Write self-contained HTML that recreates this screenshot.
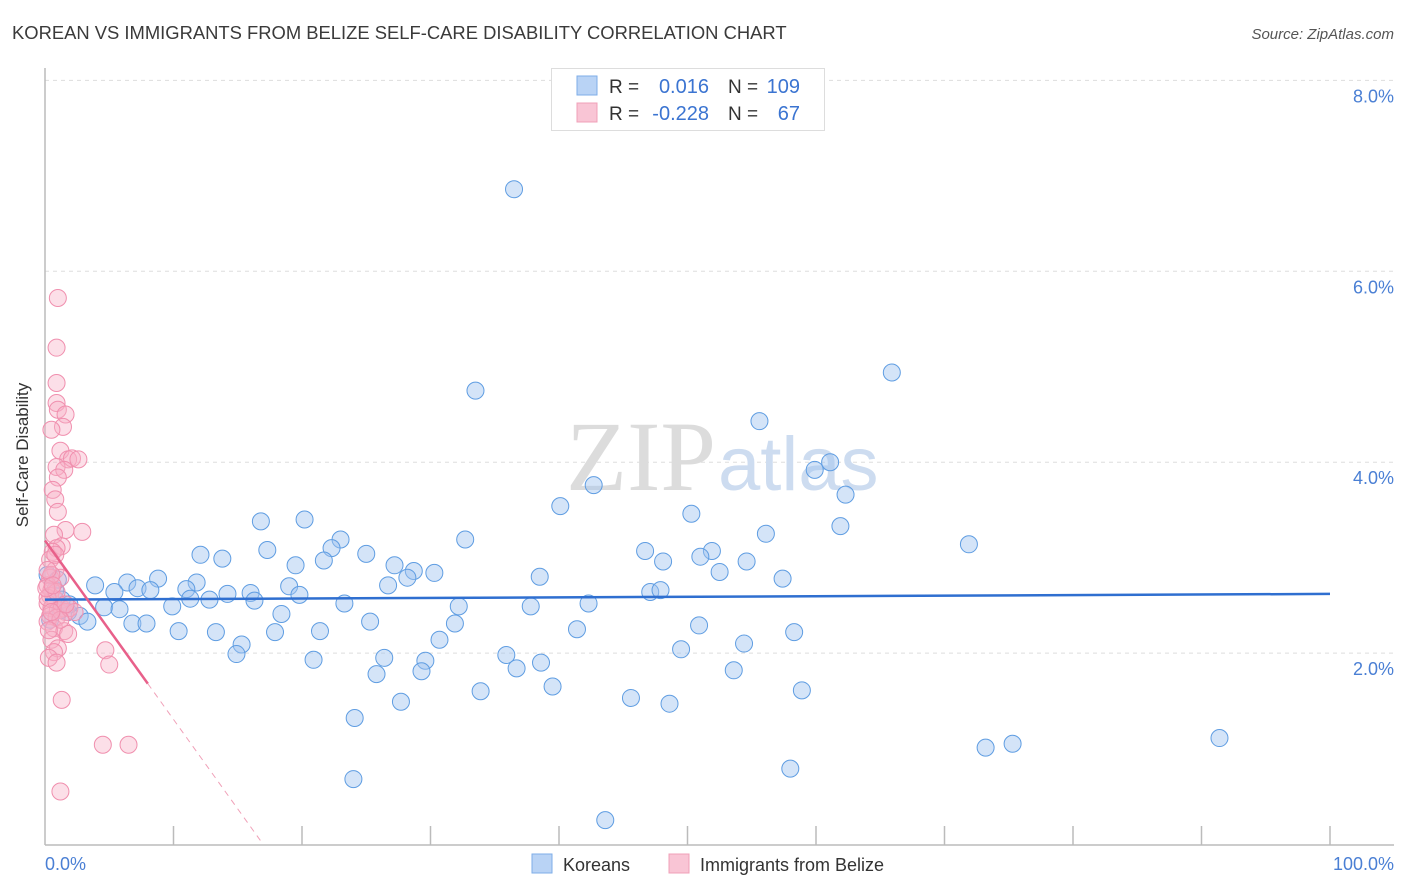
<!DOCTYPE html>
<html><head><meta charset="utf-8"><style>
body{margin:0;background:#fff;}
svg{display:block;font-family:"Liberation Sans",sans-serif;}
</style></head><body>
<svg id="chart" width="1406" height="892" xmlns="http://www.w3.org/2000/svg">
<text x="12" y="39" font-size="18.4" fill="#3a3a3a">KOREAN VS IMMIGRANTS FROM BELIZE SELF-CARE DISABILITY CORRELATION CHART</text>
<text x="1394" y="39" font-size="15" fill="#555" font-style="italic" text-anchor="end">Source: ZipAtlas.com</text>
<g id="grid"></g>
<text x="716" y="490" font-size="100" fill="#dcdcdc" text-anchor="end" font-family="Liberation Serif,serif">ZIP</text>
<text x="718" y="490" font-size="76" fill="#cddcf0">atlas</text>
<g id="axes"></g>
<g id="pts"></g>
<g id="trends"></g>
<text x="28" y="455" font-size="17" fill="#333" transform="rotate(-90 28 455)" text-anchor="middle">Self-Care Disability</text>
<text x="45" y="870" font-size="18" fill="#4a7fd4">0.0%</text>
<text x="1394" y="870" font-size="18" fill="#4a7fd4" text-anchor="end">100.0%</text>
<g>
<rect x="551.5" y="68.5" width="273" height="62" fill="#fff" stroke="#ddd"/>
<rect x="577" y="76" width="20" height="19" fill="#b9d3f5" stroke="#7eaee8"/>
<rect x="577" y="103" width="20" height="19" fill="#f9c5d5" stroke="#f0a0b8"/>
<text x="609" y="93" font-size="19" fill="#333">R =</text>
<text x="709" y="93" font-size="20" fill="#3b74d1" text-anchor="end">0.016</text>
<text x="728" y="93" font-size="19" fill="#333">N =</text>
<text x="800" y="93" font-size="20" fill="#3b74d1" text-anchor="end">109</text>
<text x="609" y="120" font-size="19" fill="#333">R =</text>
<text x="709" y="120" font-size="20" fill="#3b74d1" text-anchor="end">-0.228</text>
<text x="728" y="120" font-size="19" fill="#333">N =</text>
<text x="800" y="120" font-size="20" fill="#3b74d1" text-anchor="end">67</text>
</g>
<g>
<rect x="532" y="854" width="20" height="19" fill="#b9d3f5" stroke="#7eaee8"/>
<text x="563" y="871" font-size="18" fill="#333">Koreans</text>
<rect x="669" y="854" width="20" height="19" fill="#f9c5d5" stroke="#f0a0b8"/>
<text x="700" y="871" font-size="18" fill="#333">Immigrants from Belize</text>
</g>
</svg>
<script>
const yTicks=[2,4,6,8];
const yTickLabels=["2.0%","4.0%","6.0%","8.0%"];
const koreanX=[36.5,65.9,33.5,55.6,61.1,59.9,62.3,42.7,40.1,50.3,16.8,20.2,56.1,61.9,71.9,32.7,23.0,22.3,17.3,46.7,51.9,51.0,12.1,13.8,25.0,54.6,48.1,19.5,21.7,27.2,28.7,30.3,28.2,52.5,57.4,38.5,8.8,11.8,3.9,6.4,7.2,8.2,11.0,16.0,19.0,14.2,5.4,19.8,26.7,47.1,47.9,12.8,11.3,16.3,9.9,23.3,32.2,37.8,42.3,4.6,5.8,18.4,1.8,2.7,3.3,25.3,6.8,7.9,31.9,10.4,13.3,17.9,21.4,41.4,50.9,58.3,30.7,15.3,54.4,14.9,49.5,20.9,26.4,35.9,29.6,36.7,38.6,29.3,25.8,53.6,39.5,33.9,45.6,58.9,48.6,27.7,24.1,73.2,75.3,91.4,58.0,24.0,43.6,1.2,0.8,0.4,1.3,0.2,1.0,1.9];
const koreanY=[6.86,4.94,4.75,4.43,4.00,3.92,3.66,3.76,3.54,3.46,3.38,3.40,3.25,3.33,3.14,3.19,3.19,3.10,3.08,3.07,3.07,3.01,3.03,2.99,3.04,2.96,2.96,2.92,2.97,2.92,2.86,2.84,2.79,2.85,2.78,2.80,2.78,2.74,2.71,2.74,2.68,2.66,2.67,2.63,2.70,2.62,2.64,2.61,2.71,2.64,2.66,2.56,2.57,2.55,2.49,2.52,2.49,2.49,2.52,2.48,2.46,2.41,2.43,2.39,2.33,2.33,2.31,2.31,2.31,2.23,2.22,2.22,2.23,2.25,2.29,2.22,2.14,2.09,2.10,1.99,2.04,1.93,1.95,1.98,1.92,1.84,1.90,1.81,1.78,1.82,1.65,1.60,1.53,1.61,1.47,1.49,1.32,1.01,1.05,1.11,0.79,0.68,0.25,2.45,2.66,2.35,2.56,2.82,2.77,2.51];
const belizeX=[1.0,0.9,0.9,0.9,1.0,1.6,1.4,0.5,1.2,1.8,2.1,2.6,0.9,1.5,1.0,0.6,0.8,1.0,1.6,2.9,0.7,1.3,0.9,0.6,0.4,0.8,0.4,1.2,0.2,0.5,0.4,0.8,0.2,0.5,1.0,1.3,1.6,0.4,0.9,0.2,0.7,1.5,1.8,0.5,1.0,0.7,0.3,0.9,4.7,5.0,1.3,4.5,6.5,1.2,1.9,2.3,0.2,0.5,0.9,0.1,0.2,1.2,1.6,0.5,0.3,0.6,0.8];
const belizeY=[5.72,5.20,4.83,4.62,4.55,4.50,4.37,4.34,4.12,4.03,4.04,4.03,3.95,3.92,3.84,3.71,3.61,3.48,3.29,3.27,3.24,3.12,3.10,3.06,2.98,2.87,2.79,2.79,2.71,2.66,2.60,2.56,2.52,2.47,2.45,2.47,2.43,2.39,2.37,2.33,2.26,2.23,2.20,2.14,2.05,2.01,1.95,1.90,2.03,1.88,1.51,1.04,1.04,0.55,2.47,2.43,2.58,2.82,2.64,2.68,2.87,2.35,2.51,2.43,2.24,2.71,3.03];
const koreanTrend=[2.56,2.62];
const belizeTrend=[3.18,-0.1875];
const belizeSolidEnd=8.0;

const NS="http://www.w3.org/2000/svg";
const X0=45,X1=1330,Y0=844,PPU=95.45;
const sx=v=>X0+(X1-X0)*v/100;
const sy=v=>Y0-v*PPU;
function mk(tag,attrs,parent){const e=document.createElementNS(NS,tag);for(const k in attrs)e.setAttribute(k,attrs[k]);parent.appendChild(e);return e;}
const grid=document.getElementById('grid'),axes=document.getElementById('axes'),pts=document.getElementById('pts'),tr=document.getElementById('trends');
yTicks.forEach((t,i)=>{
  const l=mk('line',{x1:X0,x2:1394,y1:sy(t),y2:sy(t),stroke:'#ddd','stroke-dasharray':'4,4'},grid);
  
  
  const tx=mk('text',{x:1394,y:sy(t)+22,'font-size':18,fill:'#4a7fd4','text-anchor':'end'},grid);
  tx.textContent=yTickLabels[i];
  
  
});
const ax=mk('line',{x1:X0,x2:X0,y1:68,y2:Y0+1,stroke:'#bbb','stroke-width':1.5},axes);


const bx=mk('line',{x1:X0,x2:1394,y1:Y0+1,y2:Y0+1,stroke:'#bbb','stroke-width':1.5},axes);


for(let k=1;k<=10;k++){
  const t=mk('line',{x1:sx(k*10),x2:sx(k*10),y1:826,y2:Y0+1,stroke:'#bbb','stroke-width':1.5},axes);
  
  
}
koreanX.forEach((x,i)=>{
  const c=mk('circle',{cx:sx(x),cy:sy(koreanY[i]),r:8.5,fill:'rgba(160,196,240,0.45)',stroke:'#5f9de2','stroke-width':1},pts);
  
  
});
belizeX.forEach((x,i)=>{
  const c=mk('circle',{cx:sx(x),cy:sy(belizeY[i]),r:8.5,fill:'rgba(247,175,198,0.4)',stroke:'#f08fae','stroke-width':1},pts);
  
  
});
const kt=mk('line',{x1:sx(0),y1:sy(koreanTrend[0]),x2:sx(100),y2:sy(koreanTrend[1]),stroke:'#2f6fd0','stroke-width':2.5},tr);


const bAt=x=>belizeTrend[0]+belizeTrend[1]*x;
const bt=mk('line',{x1:sx(0),y1:sy(bAt(0)),x2:sx(belizeSolidEnd),y2:sy(bAt(belizeSolidEnd)),stroke:'#e8608a','stroke-width':2.5},tr);


const xEnd=-belizeTrend[0]/belizeTrend[1];
const bd=mk('line',{x1:sx(belizeSolidEnd),y1:sy(bAt(belizeSolidEnd)),x2:sx(xEnd),y2:sy(0),stroke:'#f0a0b8','stroke-width':1,'stroke-dasharray':'6,5'},tr);


</script>
</body></html>
